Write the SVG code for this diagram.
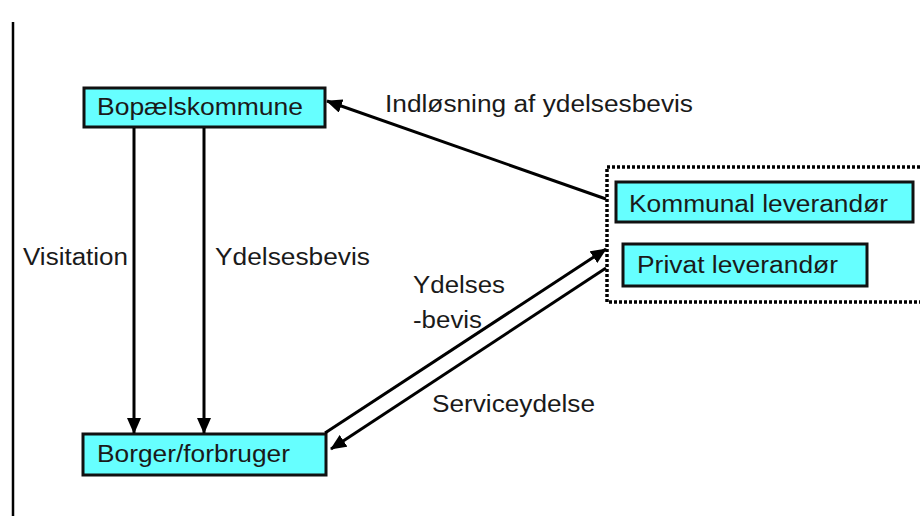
<svg xmlns="http://www.w3.org/2000/svg" width="920" height="516" viewBox="0 0 920 516">
<style>
.box{fill:#66ffff;stroke:#111;stroke-width:3}
.t{font-family:"Liberation Sans",Arial,sans-serif;font-size:23px;fill:#1a1a1a}
.c{stroke:#000;stroke-width:3;fill:none;marker-end:url(#ah)}
</style>
<defs>
<marker id="ah" markerUnits="userSpaceOnUse" markerWidth="16" markerHeight="14" refX="15" refY="7" orient="auto">
<path d="M0,0 L16,7 L0,14 Z" fill="#000"/>
</marker>
</defs>
<rect width="920" height="516" fill="#fff"/>
<line x1="13" y1="22" x2="13" y2="516" stroke="#000" stroke-width="2.5"/>
<rect id="group-border" x="607" y="167" width="330" height="135" fill="none" stroke="#000" stroke-width="3.5" stroke-dasharray="3,2"/>
<g id="bopael">
<rect class="box" x="84" y="88" width="241" height="39"/>
<text class="t" x="97" y="115" textLength="206" lengthAdjust="spacingAndGlyphs">Bopælskommune</text>
</g>
<g id="borger">
<rect class="box" x="83" y="434" width="243" height="41"/>
<text class="t" x="97" y="462" textLength="193" lengthAdjust="spacingAndGlyphs">Borger/forbruger</text>
</g>
<g id="kommunal">
<rect class="box" x="616" y="182" width="297" height="40"/>
<text class="t" x="629" y="212" textLength="259" lengthAdjust="spacingAndGlyphs">Kommunal leverandør</text>
</g>
<g id="privat">
<rect class="box" x="623" y="244" width="244" height="42"/>
<text class="t" x="637" y="273" textLength="201" lengthAdjust="spacingAndGlyphs">Privat leverandør</text>
</g>
<g id="connectors">
<line class="c" x1="134" y1="128" x2="134" y2="433"/>
<line class="c" x1="204" y1="128" x2="204" y2="433"/>
<line class="c" x1="606" y1="199" x2="327" y2="101"/>
<line class="c" x1="325" y1="433" x2="606" y2="249"/>
<line class="c" x1="606" y1="268" x2="331" y2="449"/>
</g>
<g id="labels">
<text class="t" x="385" y="112" textLength="308" lengthAdjust="spacingAndGlyphs">Indløsning af ydelsesbevis</text>
<text class="t" x="23" y="265" textLength="105" lengthAdjust="spacingAndGlyphs">Visitation</text>
<text class="t" x="215" y="265" textLength="155" lengthAdjust="spacingAndGlyphs">Ydelsesbevis</text>
<text class="t" x="413" y="293" textLength="92" lengthAdjust="spacingAndGlyphs">Ydelses</text>
<text class="t" x="413" y="328" textLength="69" lengthAdjust="spacingAndGlyphs">-bevis</text>
<text class="t" x="432" y="412" textLength="163" lengthAdjust="spacingAndGlyphs">Serviceydelse</text>
</g>
</svg>
